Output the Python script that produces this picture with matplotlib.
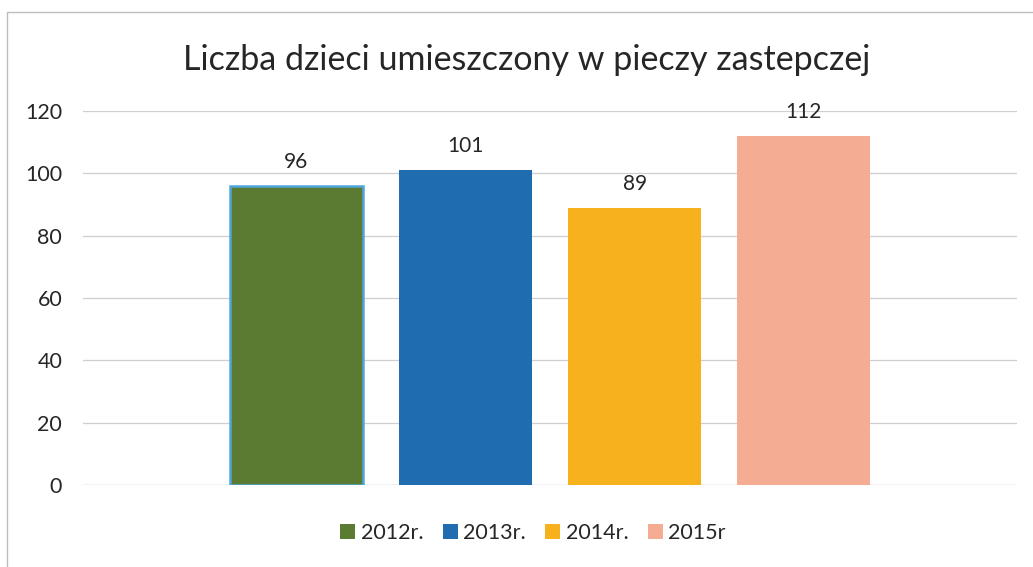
import matplotlib
matplotlib.use("Agg")
import matplotlib.pyplot as plt
from matplotlib.patches import Rectangle
from matplotlib.lines import Line2D

title = "Liczba dzieci umieszczony w pieczy zastepczej"
series = ["2012r.", "2013r.", "2014r.", "2015r"]
values = [96, 101, 89, 112]
colors = ["#5b7a32", "#1f6db0", "#f6b11c", "#f4ad92"]
yticks = [0, 20, 40, 60, 80, 100, 120]

plt.rcParams['font.family'] = ['Lato', 'DejaVu Sans']

W, H = 1033, 567
fig = plt.figure(figsize=(W / 100, H / 100), dpi=100)
fig.patch.set_facecolor("white")

ax = fig.add_axes([83 / W, (H - 485) / H, (1017 - 83) / W, (485 - 111) / H])
ax.set_facecolor("white")

for i, (s, v, c) in enumerate(zip(series, values, colors)):
    ec = "#4ea6dc" if i == 0 else c
    lw = 1.8 if i == 0 else 0
    ax.bar(i, v, width=0.786, color=c, edgecolor=ec, linewidth=lw, label=s, zorder=3)
    ax.annotate(str(v), (i, v), xytext=(0, 10), textcoords="offset points",
                ha="center", va="bottom", fontsize=15, color="#262626")

ax.set_xlim(-1.26, 4.26)
ax.set_ylim(0, 120)
ax.set_yticks(yticks)
ax.set_yticklabels([str(t) for t in yticks], fontsize=15.5, color="#262626")
ax.set_xticks([])
ax.tick_params(axis="y", length=0, pad=15)
ax.grid(axis="y", color="#cfcfcf", linewidth=0.9, zorder=0)
for sp in ax.spines.values():
    sp.set_visible(False)
ax.axhline(0, color="#cfcfcf", linewidth=0.9, zorder=1)

fig.text(527 / W, (H - 60) / H, title, ha="center", va="center", fontsize=24.5, color="#262626")

handles = [Rectangle((0, 0), 1, 1, facecolor=c, edgecolor="none") for c in colors]
fig.legend(handles, series, loc="center", bbox_to_anchor=(533 / W, (H - 533) / H),
           ncol=4, frameon=False, fontsize=15.5, handlelength=0.7, handleheight=0.7,
           handletextpad=0.25, columnspacing=0.9, labelcolor="#262626")

# chart border
fig.add_artist(Line2D([7 / W, 7 / W, 1.0], [0.0, (H - 12) / H, (H - 12) / H],
                      transform=fig.transFigure, color="#bdbdbd", linewidth=1.0))

fig.savefig("out.png", dpi=100, facecolor="white")
